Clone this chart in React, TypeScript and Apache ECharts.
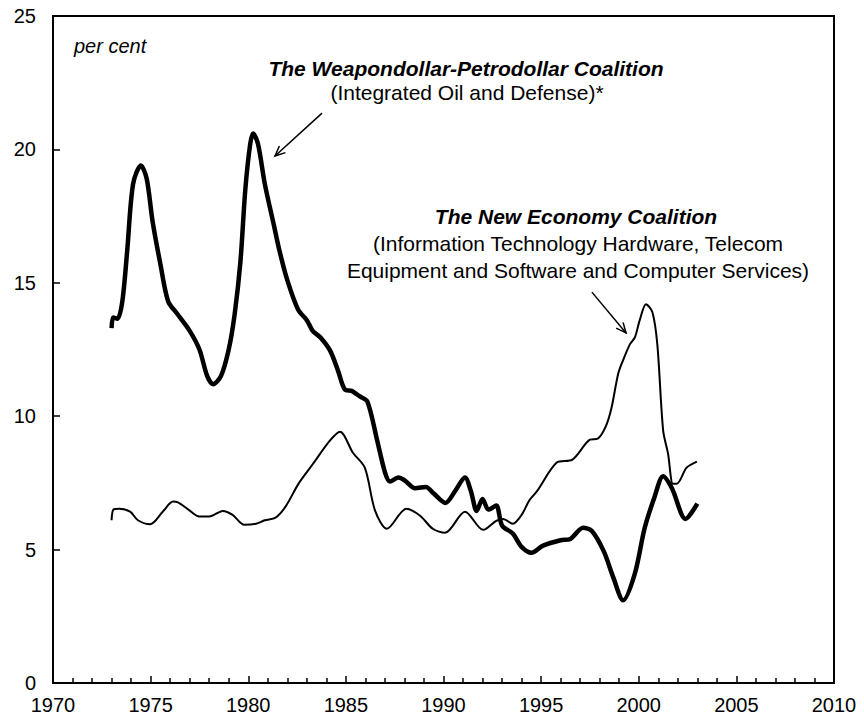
import React, { useEffect, useRef } from "react";
import * as echarts from "echarts";

// Weapondollar-Petrodollar Coalition (thick line)
const wpYears = [
  1973.0, 1973.08, 1973.3, 1973.55, 1973.8, 1974.1, 1974.5, 1974.8, 1975.1, 1975.5,
  1975.9, 1976.35, 1977.0, 1977.5, 1977.9, 1978.2, 1978.6, 1979.0, 1979.3, 1979.6,
  1979.85, 1980.1, 1980.25, 1980.5, 1980.85, 1981.3, 1981.6, 1982.0, 1982.55, 1983.0,
  1983.3, 1983.7, 1984.2, 1984.6, 1984.95, 1985.3, 1985.7, 1986.1, 1986.6, 1987.0,
  1987.26, 1987.68, 1988.0, 1988.55, 1989.1, 1989.5, 1990.1, 1990.6, 1991.1, 1991.4,
  1991.7, 1992.0, 1992.3, 1992.7, 1993.0, 1993.55, 1994.0, 1994.5, 1995.1, 1996.0,
  1996.5, 1997.15, 1997.6, 1998.2, 1998.7, 1999.2, 1999.8, 2000.3, 2000.8, 2001.25,
  2001.7, 2002.4, 2003.0,
];
const wpValues = [
  13.3, 13.7, 13.65, 14.3, 16.2, 18.7, 19.4, 18.9, 17.3, 15.7,
  14.3, 13.85, 13.2, 12.5, 11.5, 11.2, 11.5, 12.5, 13.8, 15.8,
  18.5, 20.2, 20.6, 20.2, 18.7, 17.2, 16.2, 15.1, 14.0, 13.6,
  13.2, 12.95, 12.45, 11.7, 11.0, 10.95, 10.75, 10.55, 9.1, 7.9,
  7.55, 7.7, 7.6, 7.3, 7.35, 7.1, 6.75, 7.2, 7.7, 7.2,
  6.45, 6.9, 6.5, 6.65, 5.9, 5.6, 5.1, 4.88, 5.15, 5.35,
  5.4, 5.82, 5.7, 4.95, 3.95, 3.1, 4.1, 5.8, 6.95, 7.75,
  7.3, 6.15, 6.72,
];

// New Economy Coalition (thin line)
const neYears = [
  1973.0, 1973.1, 1973.4, 1973.95, 1974.35, 1974.97, 1975.65, 1976.15, 1976.4, 1976.9,
  1977.5, 1978.0, 1978.7, 1979.2, 1979.8, 1980.4, 1980.85, 1981.4, 1981.9, 1982.6,
  1983.3, 1984.2, 1984.7, 1985.36, 1985.97, 1986.5, 1987.1, 1988.1, 1988.8, 1989.45,
  1990.08, 1991.1, 1992.03, 1992.7, 1993.05, 1993.55, 1994.0, 1994.4, 1994.8, 1995.8,
  1996.6, 1997.5, 1997.9, 1998.3, 1998.6, 1998.95, 1999.2, 1999.55, 1999.8, 2000.05,
  2000.37, 2000.7, 2000.95, 2001.25, 2001.5, 2001.75, 2001.95, 2002.45, 2002.98,
];
const neValues = [
  6.1, 6.5, 6.53, 6.42, 6.1, 5.95, 6.45, 6.8, 6.77, 6.52,
  6.24, 6.24, 6.45, 6.3, 5.93, 5.97, 6.1, 6.2, 6.6, 7.5,
  8.2, 9.1, 9.42, 8.63, 8.07, 6.45, 5.78, 6.53, 6.27, 5.78,
  5.63, 6.42, 5.74, 6.08, 6.15, 5.97, 6.3, 6.85, 7.2, 8.26,
  8.37, 9.12, 9.16, 9.6, 10.3, 11.6, 12.1, 12.7, 12.95, 13.6,
  14.2, 13.9, 12.7, 9.46, 8.6, 7.47, 7.47, 8.07, 8.3,
];

const xMin = 1970;
const xMax = 2010;
const xStep = 5;
const yMin = 0;
const yMax = 25;
const yStep = 5;

const unitLabel = "per cent";
const wpTitle = "The Weapondollar-Petrodollar Coalition";
const wpSub = "(Integrated Oil and Defense)*";
const neTitle = "The New Economy Coalition";
const neSub1 = "(Information Technology Hardware, Telecom";
const neSub2 = "Equipment and Software and Computer Services)";

// arrow endpoints in data coordinates [year, value]
const wpArrow = [[1983.78, 21.36], [1981.37, 19.75]];
const neArrow = [[1997.6, 14.65], [1999.35, 13.12]];

const FONT = "'Liberation Sans', Arial, Helvetica, sans-serif";

export default function App() {
  const ref = useRef<HTMLDivElement>(null);
  useEffect(() => {
    const chart = echarts.init(ref.current as HTMLDivElement, null, { renderer: "svg" });
    const option: any = {
      animation: false,
      backgroundColor: "#fff",
      grid: {
        left: 53,
        top: 16,
        right: 30,
        bottom: 44,
        show: true,
        borderColor: "#000",
        borderWidth: 2,
        backgroundColor: "transparent",
      },
      xAxis: {
        type: "value",
        min: xMin,
        max: xMax,
        interval: xStep,
        axisLine: { show: true, lineStyle: { color: "#000", width: 2 } },
        axisTick: { show: true, inside: true, length: 7, lineStyle: { color: "#000", width: 1.5 } },
        minorTick: { show: true, splitNumber: 5, length: 5, lineStyle: { color: "#000", width: 1.5 } },
        splitLine: { show: false },
        minorSplitLine: { show: false },
        axisLabel: {
          fontSize: 20,
          color: "#000",
          fontFamily: FONT,
          margin: 12,
          formatter: (v: number) => String(v),
        },
      },
      yAxis: {
        type: "value",
        min: yMin,
        max: yMax,
        interval: yStep,
        axisLine: { show: true, lineStyle: { color: "#000", width: 2 } },
        axisTick: { show: true, inside: true, length: 7, lineStyle: { color: "#000", width: 1.5 } },
        splitLine: { show: false },
        axisLabel: {
          fontSize: 20,
          color: "#000",
          fontFamily: FONT,
          margin: 17,
        },
      },
      series: [
        {
          name: "New Economy Coalition",
          type: "line",
          data: neYears.map((y, i) => [y, neValues[i]]),
          showSymbol: false,
          symbol: "none",
          smooth: 0.3,
          lineStyle: { color: "#000", width: 2 },
          z: 2,
        },
        {
          name: "Weapondollar-Petrodollar Coalition",
          type: "line",
          data: wpYears.map((y, i) => [y, wpValues[i]]),
          showSymbol: false,
          symbol: "none",
          smooth: 0.3,
          lineStyle: { color: "#000", width: 4.5 },
          z: 3,
        },
      ],
    };
    chart.setOption(option);

    const arrowElems = (pair: number[][]) => {
      const p0 = chart.convertToPixel({ gridIndex: 0 }, pair[0]) as number[];
      const p1 = chart.convertToPixel({ gridIndex: 0 }, pair[1]) as number[];
      const ang = Math.atan2(p1[1] - p0[1], p1[0] - p0[0]);
      const len = 11;
      const spread = 0.42;
      const a1 = [p1[0] - len * Math.cos(ang - spread), p1[1] - len * Math.sin(ang - spread)];
      const a2 = [p1[0] - len * Math.cos(ang + spread), p1[1] - len * Math.sin(ang + spread)];
      return [
        {
          type: "line",
          shape: { x1: p0[0], y1: p0[1], x2: p1[0], y2: p1[1] },
          style: { stroke: "#000", lineWidth: 1.5 },
          z: 10,
        },
        {
          type: "polyline",
          shape: { points: [a1, p1, a2] },
          style: { stroke: "#000", lineWidth: 1.5, fill: null },
          z: 10,
        },
      ];
    };

    const txt = (text: string, x: number, y: number, font: string, align = "center") => ({
      type: "text",
      x,
      y,
      style: {
        text,
        font,
        fill: "#000",
        textAlign: align,
        textVerticalAlign: "middle",
      },
      z: 10,
    });

    chart.setOption({
      graphic: [
        txt(unitLabel, 74, 46, `italic 20px ${FONT}`, "left"),
        txt(wpTitle, 466, 68, `italic bold 21px ${FONT}`),
        txt(wpSub, 467, 92, `21px ${FONT}`),
        txt(neTitle, 576, 216, `italic bold 21px ${FONT}`),
        txt(neSub1, 578, 243, `21px ${FONT}`),
        txt(neSub2, 578, 270, `21px ${FONT}`),
        ...arrowElems(wpArrow),
        ...arrowElems(neArrow),
      ],
    });

    return () => chart.dispose();
  }, []);
  return (
    <div
      ref={ref}
      style={{ position: "fixed", left: 0, top: 0, width: 864, height: 727, background: "#fff" }}
    />
  );
}
